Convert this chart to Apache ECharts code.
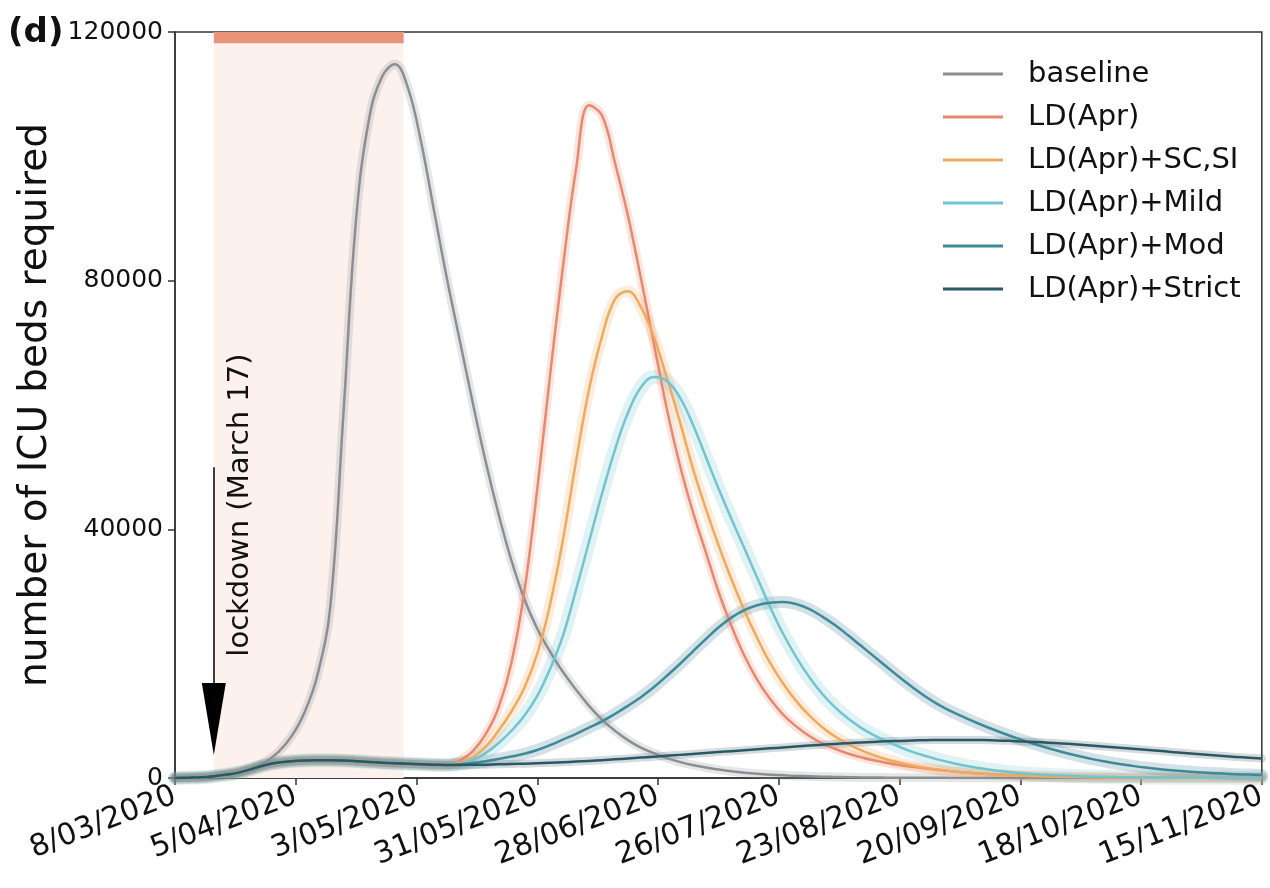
<!DOCTYPE html>
<html>
<head>
<meta charset="utf-8">
<script src="https://cdn.jsdelivr.net/npm/echarts@6/dist/echarts.min.js"></script>
<style>
html,body{margin:0;padding:0;background:#fff;}
#chart{width:1270px;height:888px;}
</style>
</head>
<body>
<div id="chart"></div>
<script>
// Sample days (days since 8 March 2020), every 3 days
const days = [];
for (let d = 0; d <= 252; d += 3) days.push(d);

const tickLabels = ['8/03/2020','5/04/2020','3/05/2020','31/05/2020','28/06/2020','26/07/2020','23/08/2020','20/09/2020','18/10/2020','15/11/2020'];

// baseline, days 0..252
const baseline = [0,50,120,300,550,950,1600,2600,4200,6700,10500,16500,27500,58000,90000,106000,112800,114800,111000,102500,91500,80500,
  70500,60500,51000,42500,35000,28800,24000,20300,17000,14200,11600,9400,7600,6100,4900,4000,3200,2600,2100,1700,
  1350,1080,860,680,540,430,340,270,210,170,130,100,80,60,50,40,30,25,20,15,12,10,8,6,5,4,3,3,2,2,2,1,1,1,1,1,1,1,1,1,1,1,1];

// common part of the lockdown scenarios, days 0..63
const hump = [0,50,120,300,550,900,1500,2100,2500,2700,2820,2870,2860,2800,2700,2580,2470,2370,2280,2200,2140,2100];

// scenario values, days 66..252
const ldAprTail = [2800,4300,7000,11300,18500,30000,46500,65000,82500,98000,
  108200,106600,99000,90500,80500,70000,59500,50500,43000,36500,
  30000,24500,19700,15800,12700,10200,8300,6800,5600,4700,
  3950,3350,2850,2450,2100,1800,1520,1280,1080,900,
  760,640,530,440,370,300,250,210,170,140,
  115,95,80,65,55,45,37,30,25,20,17,14,12];
const scsiTail = [2450,3300,5000,7600,10700,14500,20000,28000,38500,51000,
  62500,71000,77000,78300,75800,71000,64500,57500,50000,43500,
  37500,32000,27000,22500,18500,15200,12400,10100,8200,6700,
  5500,4500,3700,3000,2450,2000,1650,1350,1100,900,
  740,600,490,400,330,270,220,180,145,120,
  98,80,65,53,43,35,28,23,19,15,12,10,8];
const mildTail = [2300,2900,4000,5600,7600,10000,13200,17600,23000,30300,
  38000,45700,52800,58700,62800,64500,63900,61300,57000,51800,
  46600,41700,37000,32200,27500,23200,19500,16300,13600,11400,
  9600,8100,6900,5900,5000,4200,3550,2950,2450,2000,
  1650,1330,1070,860,690,550,440,350,280,220,
  175,140,110,88,70,56,45,36,29,23,18,14,11];
const modTail = [2200,2400,2700,3050,3450,3900,4500,5300,6200,7100,
  8100,9100,10300,11600,13000,14600,16400,18300,20300,22300,
  24200,25800,27000,27800,28200,28300,28000,27200,26000,24600,
  23000,21300,19600,17900,16200,14600,13100,11800,10700,9750,
  8850,8000,7200,6450,5750,5100,4500,3950,3450,3000,
  2600,2250,1950,1680,1450,1250,1080,930,810,710,620,550,490];
const strictTail = [2100,2120,2150,2200,2250,2310,2380,2450,2540,2640,
  2750,2870,3000,3140,3280,3420,3570,3720,3870,4020,
  4170,4320,4470,4620,4770,4920,5070,5210,5350,5480,
  5600,5710,5810,5900,5970,6030,6080,6110,6130,6130,
  6110,6070,6010,5930,5840,5740,5620,5490,5350,5200,
  5040,4880,4710,4540,4370,4200,4030,3860,3700,3540,3390,3250,3120];

const seriesNames = ['baseline','LD(Apr)','LD(Apr)+SC,SI','LD(Apr)+Mild','LD(Apr)+Mod','LD(Apr)+Strict'];
const seriesValues = [baseline, hump.concat(ldAprTail), hump.concat(scsiTail), hump.concat(mildTail), hump.concat(modTail), hump.concat(strictTail)];
const lineColors = ['#8c8e91','#e8896f','#f0aa5f','#72c4cf','#3d8b99','#2b5865'];
const bandColors = ['rgba(150,155,160,0.25)','rgba(232,137,111,0.22)','rgba(240,170,95,0.22)','rgba(114,196,207,0.22)','rgba(61,120,140,0.22)','rgba(43,70,85,0.2)'];
const bandWidths = [9,9,11,14,12,8];

// lockdown period (days) and annotation
const lockdownStart = 9, lockdownEnd = 53;
const arrowTop = 50000, arrowEnd = 9500;
const labelPos = [15.2, 43900];

const FONT = 'DejaVu Sans';
const chart = echarts.init(document.getElementById('chart'), null, {renderer:'canvas'});

const series = [];
seriesNames.forEach((name, i) => {
  const data = days.map((d, k) => [d, seriesValues[i][k]]);
  const band = {
    name: '_band' + i, type: 'line', data: data, smooth: 0.4, showSymbol: false, silent: true,
    lineStyle: {color: bandColors[i], width: bandWidths[i], cap: 'round', join: 'round'}, z: 2
  };
  if (i === 0) {
    band.markArea = {
      silent: true,
      data: [
        [{xAxis: lockdownStart, itemStyle: {color: '#fcf1ec'}}, {xAxis: lockdownEnd}],
        [{xAxis: lockdownStart, yAxis: 118200, itemStyle: {color: '#e8937a'}}, {xAxis: lockdownEnd, yAxis: 120000}]
      ]
    };
  }
  series.push(band);
  const line = {
    name: name, type: 'line', data: data, smooth: 0.4, showSymbol: false, color: lineColors[i],
    lineStyle: {color: lineColors[i], width: 2.5, join: 'round'}, z: 3
  };
  if (i === 0) {
    line.markLine = {
      silent: true, animation: false,
      symbol: ['none', 'triangle'], symbolSize: [24, 72],
      lineStyle: {color: '#000', width: 1.5, type: 'solid'},
      label: {show: false},
      data: [[{coord: [lockdownStart, arrowTop]}, {coord: [lockdownStart, arrowEnd]}]]
    };
    line.markPoint = {
      silent: true, symbol: 'circle', symbolSize: 0,
      label: {show: true, position: 'inside', rotate: 90, formatter: 'lockdown (March 17)',
        fontFamily: FONT, fontSize: 29, color: '#111'},
      data: [{coord: labelPos}]
    };
  }
  series.push(line);
});

chart.setOption({
  animation: false,
  backgroundColor: '#fff',
  title: {text: '(d)', left: 3, top: 11, textStyle: {fontFamily: FONT, fontWeight: 'bold', fontSize: 34, color: '#111'}},
  grid: {left: 175, right: 2, top: 32, bottom: 110, show: true, borderColor: '#333', borderWidth: 1.5},
  legend: {
    data: seriesNames, orient: 'vertical', left: 938, top: 54, selectedMode: false,
    icon: 'rect', itemWidth: 60, itemHeight: 3, itemGap: 13,
    textStyle: {fontFamily: FONT, fontSize: 29, color: '#111', lineHeight: 30, padding: [0, 0, 0, 20]}
  },
  xAxis: {
    type: 'value', min: 0, max: 252, interval: 28,
    axisLine: {lineStyle: {color: '#333', width: 1.5}},
    axisTick: {show: true, length: 7, lineStyle: {color: '#333', width: 1.5}},
    axisLabel: {rotate: 21, fontFamily: FONT, fontSize: 30, color: '#111', margin: 17,
      formatter: v => tickLabels[Math.round(v / 28)]},
    splitLine: {show: false}
  },
  yAxis: {
    type: 'value', min: 0, max: 120000, interval: 40000,
    name: 'number of ICU beds required', nameLocation: 'middle', nameGap: 120, nameRotate: 90,
    nameTextStyle: {fontFamily: FONT, fontSize: 39, color: '#111'},
    axisLine: {show: true, lineStyle: {color: '#333', width: 1.5}},
    axisTick: {show: true, length: 7, lineStyle: {color: '#333', width: 1.5}},
    axisLabel: {fontFamily: FONT, fontSize: 25, color: '#111', margin: 12, formatter: v => String(v)},
    splitLine: {show: false}
  },
  series: series
});
</script>
</body>
</html>
